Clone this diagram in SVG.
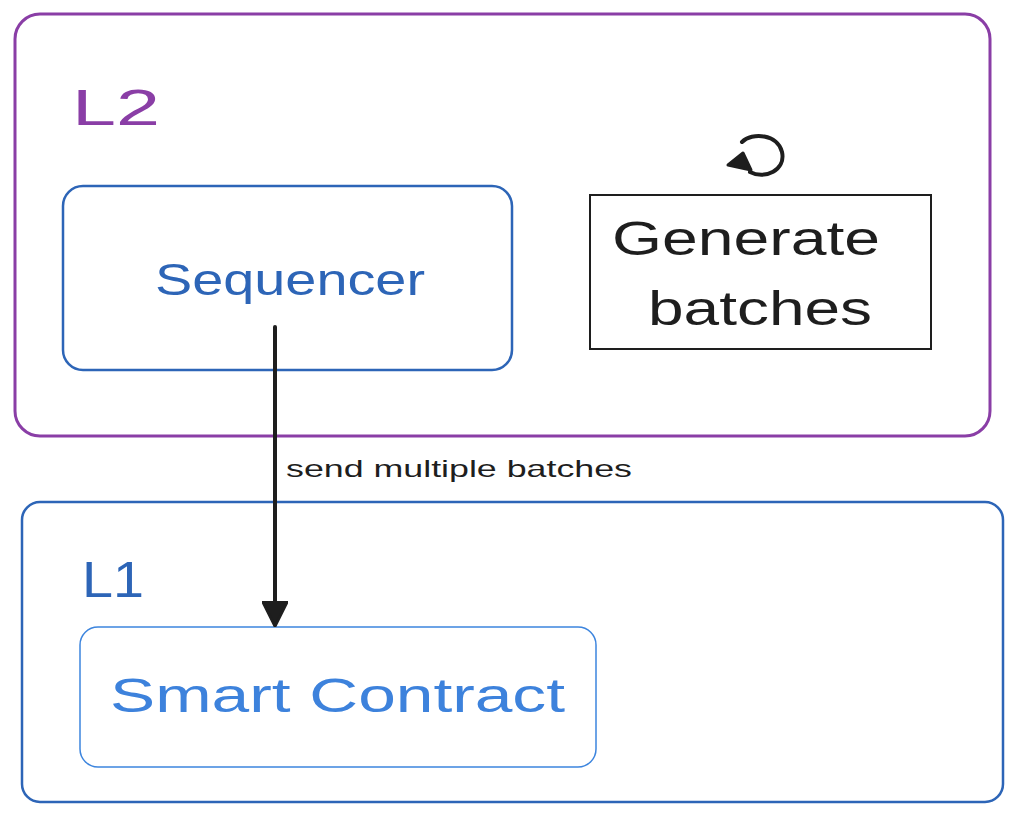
<svg xmlns="http://www.w3.org/2000/svg" width="1015" height="828" viewBox="0 0 1015 828">
<style>
  .t { font-family: "Liberation Sans", Arial, sans-serif; }
  .purple { fill: none; stroke: #8a3ea6; stroke-width: 3; }
  .blue { fill: none; stroke: #2d65b7; stroke-width: 2.5; }
  .lblue { fill: none; stroke: #3d85de; stroke-width: 1.5; }
</style>
<defs>
  <marker id="ah" viewBox="0 0 10 10" refX="9" refY="5" markerWidth="26" markerHeight="26" markerUnits="userSpaceOnUse" orient="auto">
    <path d="M0,0 L10,5 L0,10 Z" fill="#1e1e1e" stroke="#1e1e1e" stroke-width="1" stroke-linejoin="round"/>
  </marker>
</defs>
<rect width="1015" height="828" fill="#ffffff"/>
<g id="L2">
  <rect class="purple" x="15" y="14" width="975" height="422" rx="25"/>
  <text class="t" x="72" y="125" font-size="50" fill="#8a3ea6" textLength="88" lengthAdjust="spacingAndGlyphs">L2</text>
</g>
<g id="Sequencer">
  <rect class="blue" x="63" y="186" width="449" height="184" rx="20"/>
  <text class="t" x="155" y="295" font-size="44" fill="#2d65b7" textLength="270" lengthAdjust="spacingAndGlyphs">Sequencer</text>
</g>
<g id="GenerateBatches">
  <rect x="590" y="195" width="341" height="154" fill="none" stroke="#1e1e1e" stroke-width="2"/>
  <text class="t" x="612" y="255" font-size="48" fill="#1e1e1e" textLength="268" lengthAdjust="spacingAndGlyphs">Generate</text>
  <text class="t" x="648" y="325" font-size="48" fill="#1e1e1e" textLength="224" lengthAdjust="spacingAndGlyphs">batches</text>
  <path d="M742,142 C752,132 778,134 782,152 C786,170 765,180 750,172" fill="none" stroke="#1e1e1e" stroke-width="4" stroke-linecap="round"/>
  <path d="M728,165 L743,153 L751,170 Z" fill="#1e1e1e" stroke="#1e1e1e" stroke-width="3" stroke-linejoin="round"/>
</g>
<g id="L1">
  <rect class="blue" x="22" y="502" width="981" height="300" rx="18"/>
  <text class="t" x="82" y="597" font-size="50" fill="#2d65b7" textLength="62" lengthAdjust="spacingAndGlyphs">L1</text>
</g>
<g id="SmartContract">
  <rect class="lblue" x="80" y="627" width="516" height="140" rx="18"/>
  <text class="t" x="110" y="712" font-size="48" fill="#3d82dc" textLength="455" lengthAdjust="spacingAndGlyphs">Smart Contract</text>
</g>
<g id="connectors">
  <line x1="275" y1="327" x2="275" y2="624" stroke="#1e1e1e" stroke-width="4" stroke-linecap="round" marker-end="url(#ah)"/>
  <text class="t" x="286" y="477" font-size="24" fill="#1e1e1e" textLength="346" lengthAdjust="spacingAndGlyphs">send multiple batches</text>
</g>
</svg>
